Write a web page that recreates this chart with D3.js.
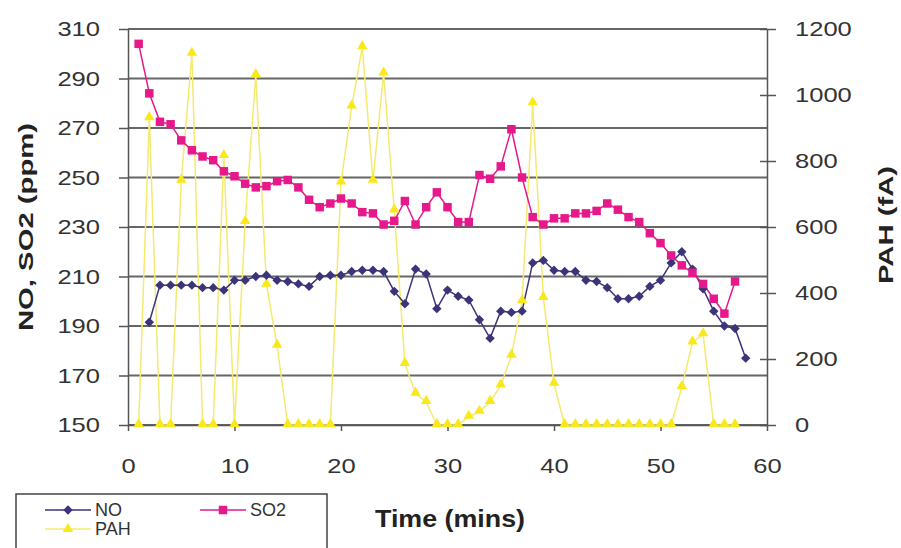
<!DOCTYPE html>
<html>
<head>
<meta charset="utf-8">
<script src="https://cdn.jsdelivr.net/npm/d3@7"></script>
<style>
  body { margin: 0; background: #fff; }
  svg { display: block; font-family: "Liberation Sans", Arial, sans-serif; }
</style>
</head>
<body>
<div id="chart"></div>
<script>
// Data
const soTime = [1, 2, 3, 4, 5, 6, 7, 8, 9, 10, 11, 12, 13, 14, 15, 16, 17, 18, 19, 20,
  21, 22, 23, 24, 25, 26, 27, 28, 29, 30, 31, 32, 33, 34, 35, 36, 37, 38, 39, 40,
  41, 42, 43, 44, 45, 46, 47, 48, 49, 50, 51, 52, 53, 54, 55, 56, 57];
const so2 = [304, 284, 272.5, 271.5, 265, 261, 258.5, 257, 252.5, 250.5, 247.5, 246, 246.5, 248.5, 249, 246, 241, 238, 239.5, 241.5,
  239.5, 236, 235.5, 231, 232.5, 240.5, 231, 238, 244, 238, 232, 232, 251, 249.5, 254.5, 269.5, 250, 234, 231, 233.5,
  233.5, 235.5, 235.5, 236.5, 239.5, 237, 234, 232, 227.5, 223.5, 218.5, 214.5, 211.5, 207, 201, 195, 208];

const noTime = [2, 3, 4, 5, 6, 7, 8, 9, 10, 11, 12, 13, 14, 15, 16, 17, 18, 19, 20,
  21, 22, 23, 24, 25, 26, 27, 28, 29, 30, 31, 32, 33, 34, 35, 36, 37, 38, 39, 40,
  41, 42, 43, 44, 45, 46, 47, 48, 49, 50, 51, 52, 53, 54, 55, 56, 57, 58];
const no = [191.5, 206.5, 206.5, 206.5, 206.5, 205.5, 205.5, 204.5, 208.5, 208.5, 210, 210.5, 208.5, 208, 207, 206, 210, 210.5, 210.5,
  212, 212.5, 212.5, 212, 204, 199, 213, 211, 197, 204.5, 202, 200.5, 192.5, 185, 196, 195.5, 196, 215.5, 216.5, 212.5,
  212, 212, 208.5, 208, 205.5, 201, 201, 202, 206, 208.5, 215.5, 220, 213, 205, 196, 190, 189, 177];

const pahTime = soTime;
const pah = [0, 930, 0, 0, 740, 1125, 0, 0, 815, 0, 615, 1060, 425, 240, 0, 0, 0, 0, 0, 735,
  965, 1145, 740, 1065, 650, 185, 95, 70, 0, 0, 0, 25, 40, 70, 120, 210, 375, 975, 385, 125,
  0, 0, 0, 0, 0, 0, 0, 0, 0, 0, 0, 115, 250, 275, 0, 0, 0];

const xTicks = [0, 10, 20, 30, 40, 50, 60];
const leftTicks = [150, 170, 190, 210, 230, 250, 270, 290, 310];
const rightTicks = [0, 200, 400, 600, 800, 1000, 1200];

const colors = { NO: '#3b3478', SO2: '#e5198b', PAH: '#f9e81a', PAHline: '#f4ea70' };

const width = 901, height = 548;
const margin = { top: 29, right: 134, bottom: 123, left: 128 };
const chartWidth = width - margin.left - margin.right;
const chartHeight = height - margin.top - margin.bottom;

const svg = d3.select('#chart').append('svg')
  .attr('width', width)
  .attr('height', height);

const g = svg.append('g')
  .attr('transform', `translate(${margin.left},${margin.top})`);

// Scales
const x = d3.scaleLinear().domain([0, 60]).range([0, chartWidth]);
const yL = d3.scaleLinear().domain([150, 310]).range([chartHeight, 0]);
const yR = d3.scaleLinear().domain([0, 1200]).range([chartHeight, 0]);

// Gridlines
g.append('g')
  .selectAll('line')
  .data(leftTicks)
  .join('line')
  .attr('x1', 0).attr('x2', chartWidth)
  .attr('y1', d => yL(d)).attr('y2', d => yL(d))
  .attr('stroke', '#666').attr('stroke-width', 2);

function styleAxis(sel) {
  sel.select('.domain').attr('stroke', '#555').attr('stroke-width', 1.5);
  sel.selectAll('.tick line').attr('stroke', '#555').attr('stroke-width', 1.5);
  sel.selectAll('.tick text')
    .attr('fill', '#333')
    .style('font-size', '21px')
    .attr('textLength', d => String(d).length * 14.2)
    .attr('lengthAdjust', 'spacingAndGlyphs');
}

// Axes
g.append('g')
  .attr('transform', `translate(0,${chartHeight})`)
  .call(d3.axisBottom(x).tickValues(xTicks).tickFormat(d3.format('d'))
    .tickSize(6).tickSizeOuter(0).tickPadding(27))
  .call(styleAxis);

g.append('g')
  .call(d3.axisLeft(yL).tickValues(leftTicks).tickFormat(d3.format('d'))
    .tickSize(9).tickSizeOuter(0).tickPadding(19))
  .call(styleAxis);

g.append('g')
  .attr('transform', `translate(${chartWidth},0)`)
  .call(d3.axisRight(yR).tickValues(rightTicks).tickFormat(d3.format('d'))
    .tickSize(9).tickSizeOuter(0).tickPadding(19))
  .call(styleAxis)
  .call(a => a.selectAll('.tick line').attr('x1', -7));

// Series
const noData = noTime.map((t, i) => ({ t, v: no[i] }));
const soData = soTime.map((t, i) => ({ t, v: so2[i] }));
const pahData = pahTime.map((t, i) => ({ t, v: pah[i] }));

const lineL = d3.line().x(d => x(d.t)).y(d => yL(d.v));
const lineR = d3.line().x(d => x(d.t)).y(d => yR(d.v));

g.append('path').datum(pahData).attr('d', lineR)
  .attr('fill', 'none').attr('stroke', colors.PAHline).attr('stroke-width', 1.5);
g.append('path').datum(noData).attr('d', lineL)
  .attr('fill', 'none').attr('stroke', colors.NO).attr('stroke-width', 1.5);
g.append('path').datum(soData).attr('d', lineL)
  .attr('fill', 'none').attr('stroke', colors.SO2).attr('stroke-width', 1.5);

const tri = d3.symbol().type(d3.symbolTriangle).size(48);
const sq = d3.symbol().type(d3.symbolSquare).size(72);
const dia = d3.symbol().type(d3.symbolSquare).size(44);

g.append('g').selectAll('path').data(pahData).join('path')
  .attr('d', tri)
  .attr('transform', d => `translate(${x(d.t)},${yR(d.v) - 1})`)
  .attr('fill', colors.PAH);
g.append('g').selectAll('path').data(noData).join('path')
  .attr('d', dia)
  .attr('transform', d => `translate(${x(d.t)},${yL(d.v)}) rotate(45)`)
  .attr('fill', colors.NO);
g.append('g').selectAll('path').data(soData).join('path')
  .attr('d', sq)
  .attr('transform', d => `translate(${x(d.t)},${yL(d.v)})`)
  .attr('fill', colors.SO2);

// Axis titles
svg.append('text')
  .attr('transform', 'translate(33,227) rotate(-90)')
  .attr('text-anchor', 'middle')
  .attr('font-weight', 'bold').attr('fill', '#222')
  .style('font-size', '20px')
  .attr('textLength', 208).attr('lengthAdjust', 'spacingAndGlyphs')
  .text('NO, SO2 (ppm)');

svg.append('text')
  .attr('transform', 'translate(893,225) rotate(-90)')
  .attr('text-anchor', 'middle')
  .attr('font-weight', 'bold').attr('fill', '#222')
  .style('font-size', '20px')
  .attr('textLength', 118).attr('lengthAdjust', 'spacingAndGlyphs')
  .text('PAH (fA)');

svg.append('text')
  .attr('x', 450).attr('y', 527)
  .attr('text-anchor', 'middle')
  .attr('font-weight', 'bold').attr('fill', '#222')
  .style('font-size', '24px')
  .attr('textLength', 150).attr('lengthAdjust', 'spacingAndGlyphs')
  .text('Time (mins)');

// Legend
const legend = svg.append('g');
legend.append('rect')
  .attr('x', 16).attr('y', 494).attr('width', 311).attr('height', 70)
  .attr('fill', '#fff').attr('stroke', '#444').attr('stroke-width', 1.5);

const legendItems = [
  { name: 'NO', x: 45, y: 510, color: colors.NO, lineColor: colors.NO, sym: dia, rot: 45 },
  { name: 'SO2', x: 200, y: 510, color: colors.SO2, lineColor: colors.SO2, sym: sq, rot: 0 },
  { name: 'PAH', x: 45, y: 529, color: colors.PAH, lineColor: colors.PAHline, sym: tri, rot: 0 }
];
const li = legend.selectAll('g.item').data(legendItems).join('g')
  .attr('transform', d => `translate(${d.x},${d.y})`);
li.append('line').attr('x1', 0).attr('x2', 46)
  .attr('stroke', d => d.lineColor).attr('stroke-width', 1.5);
li.append('path').attr('d', d => d.sym())
  .attr('transform', d => `translate(23,0) rotate(${d.rot})`)
  .attr('fill', d => d.color);
li.append('text')
  .attr('x', 50).attr('y', 6)
  .attr('fill', '#333').style('font-size', '18px')
  .text(d => d.name);
</script>
</body>
</html>
